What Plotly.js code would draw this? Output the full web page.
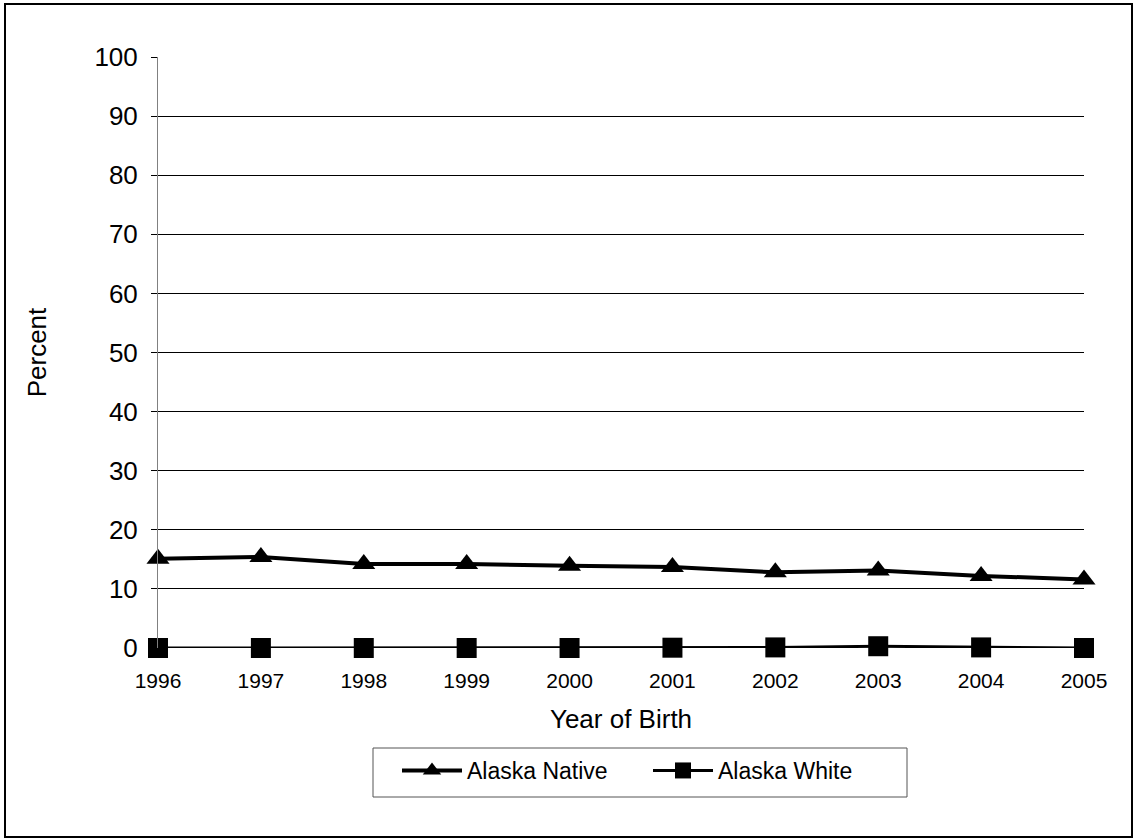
<!DOCTYPE html>
<html>
<head>
<meta charset="utf-8">
<script src="https://cdn.plot.ly/plotly-3.0.1.min.js"></script>
<style>
  html, body { margin: 0; padding: 0; background: #fff; }
  #chart { width: 1133px; height: 838px; }
</style>
</head>
<body>
<div id="chart"></div>
<script>
const years = ["1996", "1997", "1998", "1999", "2000", "2001", "2002", "2003", "2004", "2005"];
const alaskaNative = [15.1, 15.4, 14.2, 14.2, 13.9, 13.7, 12.8, 13.1, 12.2, 11.6];
const alaskaWhite = [0.0, 0.0, 0.0, 0.0, 0.0, 0.05, 0.1, 0.3, 0.1, 0.0];
const yTicks = [0, 10, 20, 30, 40, 50, 60, 70, 80, 90, 100];

const FONT = "Liberation Sans, Arial, sans-serif";

const traces = [
  {
    x: years, y: alaskaNative, name: "Alaska Native", type: "scatter", mode: "lines+markers",
    line: { color: "#000", width: 4 },
    marker: { symbol: "triangle-up", size: 20, color: "#000" },
    cliponaxis: false
  },
  {
    x: years, y: alaskaWhite, name: "Alaska White", type: "scatter", mode: "lines+markers",
    line: { color: "#000", width: 3 },
    marker: { symbol: "square", size: 20, color: "#000" },
    cliponaxis: false
  }
];

const L = 158, T = 57, W = 926, H = 591;
function px(x) { return (x - L) / W; }
function py(y) { return (T + H - y) / H; }

const layout = {
  width: 1133, height: 838,
  margin: { l: L, r: 1133 - L - W, t: T, b: 838 - T - H, pad: 0 },
  paper_bgcolor: "#fff", plot_bgcolor: "#fff",
  font: { family: FONT, color: "#000" },
  showlegend: true,
  xaxis: {
    type: "category", range: [0, 9], showgrid: false, zeroline: false,
    showline: false, ticks: "", ticklabelstandoff: 18,
    tickfont: { size: 21, family: FONT },
    title: { text: "Year of Birth", font: { size: 26, family: FONT }, standoff: 18 },
    fixedrange: true
  },
  yaxis: {
    range: [0, 100], tickvals: yTicks, ticktext: yTicks.map(String),
    showgrid: true, gridcolor: "#000", gridwidth: 1,
    zeroline: false, showline: true, linecolor: "#808080", linewidth: 1,
    ticks: "outside", ticklen: 6, tickcolor: "#000", tickwidth: 1,
    ticklabelstandoff: 8,
    tickfont: { size: 26, family: FONT },
    title: { text: "Percent", font: { size: 26, family: FONT }, standoff: 40 },
    fixedrange: true
  },
  legend: {
    orientation: "h", x: px(397), xanchor: "left", y: py(749), yanchor: "top",
    borderwidth: 0, bgcolor: "rgba(0,0,0,0)",
    font: { size: 23, family: FONT }, itemwidth: 60, entrywidth: 176, tracegroupgap: 0
  },
  shapes: [
    { type: "rect", xref: "paper", yref: "paper",
      x0: px(5), x1: px(1132), y0: py(837), y1: py(4),
      line: { color: "#000", width: 2 }, layer: "above" },
    { type: "rect", xref: "paper", yref: "paper",
      x0: px(373), x1: px(907), y0: py(797), y1: py(748),
      line: { color: "#555", width: 1 }, layer: "below" }
  ]
};

Plotly.newPlot("chart", traces, layout, { displayModeBar: false, staticPlot: true });
</script>
</body>
</html>
